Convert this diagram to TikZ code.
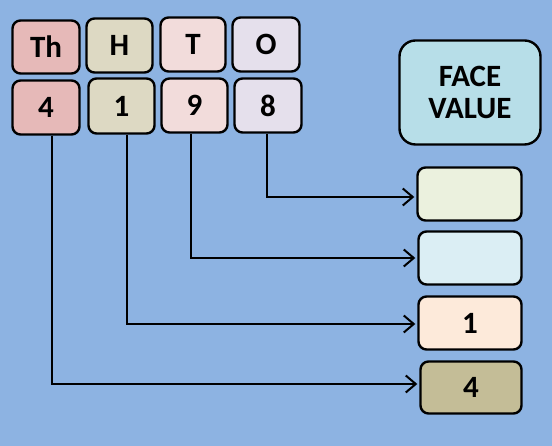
\documentclass[tikz,border=0pt]{standalone}
\usepackage{fontspec}
\setmainfont{Carlito}
\usetikzlibrary{arrows.meta}
\definecolor{bgblue}{HTML}{8DB3E2}
\definecolor{thcol}{HTML}{E6B9B8}
\definecolor{hcol}{HTML}{DDD9C3}
\definecolor{tcol}{HTML}{F2DCDB}
\definecolor{ocol}{HTML}{E5E0EC}
\definecolor{facecol}{HTML}{B7DEE8}
\definecolor{rone}{HTML}{EBF1DE}
\definecolor{rtwo}{HTML}{DBEEF4}
\definecolor{rthree}{HTML}{FDEADA}
\definecolor{rfour}{HTML}{C4BD97}
\tikzset{
  digitbox/.style={draw=black,line width=2.4pt,rounded corners=8pt,
    font=\fontsize{31}{34}\selectfont\bfseries,inner sep=0pt},
  pointer/.style={line width=2pt,-{Straight Barb[length=10pt,width=17pt,line width=2pt]},shorten >=2pt}
}
\begin{document}
\begin{tikzpicture}[x=1pt,y=1pt]
        %background
        \fill[bgblue] (0,0) rectangle (552,446);
        \useasboundingbox (0,0) rectangle (552,446);

        %places
        \node[digitbox,fill=thcol,minimum width=67pt,minimum height=53pt] (th) at (46,399) {Th};
        \node[digitbox,fill=hcol,minimum width=66pt,minimum height=54pt] (h) at (119.5,400.5) {H};
        \node[digitbox,fill=tcol,minimum width=65pt,minimum height=54pt] (t) at (193,401.5) {T};
        \node[digitbox,fill=ocol,minimum width=67pt,minimum height=54pt] (o) at (266,401.5) {O};

        %digits
        \node[digitbox,fill=thcol,minimum width=67pt,minimum height=54pt] (dth) at (46,338.5) {4};
        \node[digitbox,fill=hcol,minimum width=66pt,minimum height=55pt] (dh) at (121.5,340) {1};
        \node[digitbox,fill=tcol,minimum width=66pt,minimum height=54pt] (dt) at (194.5,340.5) {9};
        \node[digitbox,fill=ocol,minimum width=67pt,minimum height=54pt] (do) at (268,340.5) {8};

        %face value
        \node[digitbox,fill=facecol,minimum width=141pt,minimum height=104pt,rounded corners=16pt,align=center] (face) at (470,353.5) {FACE\\[-2pt]VALUE};

        %results
        \node[digitbox,fill=rone,minimum width=104pt,minimum height=53pt] (ro) at (469.5,252) {};
        \node[digitbox,fill=rtwo,minimum width=103pt,minimum height=53pt] (rt) at (470,188) {};
        \node[digitbox,fill=rthree,minimum width=103pt,minimum height=53pt] (rh) at (470,123) {1};
        \node[digitbox,fill=rfour,minimum width=101pt,minimum height=52pt] (rth) at (471,58.5) {4};

        %pointers
        \draw[pointer] ([xshift=-1pt]do.south) |- ([yshift=-3pt]ro.west);
        \draw[pointer] ([xshift=-3.5pt]dt.south) |- (rt.west);
        \draw[pointer] ([xshift=5.5pt]dh.south) |- ([yshift=-1pt]rh.west);
        \draw[pointer] ([xshift=6pt]dth.south) |- ([yshift=3.5pt]rth.west);
    \end{tikzpicture}
\end{document}
